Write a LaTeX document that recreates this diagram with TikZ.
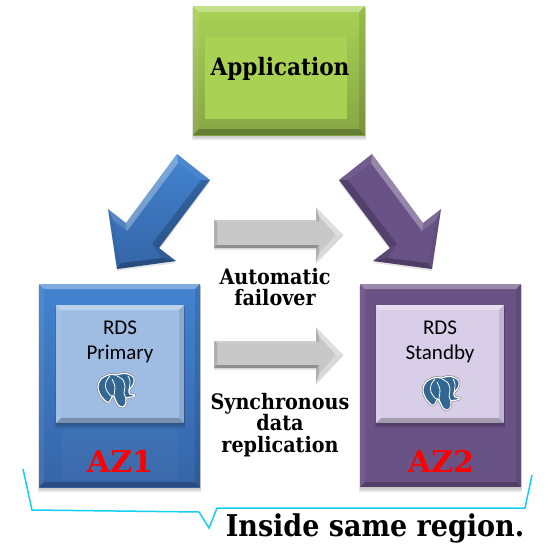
\documentclass[tikz,border=0pt]{standalone}
\usepackage{fontspec}
\setmainfont{DejaVu Serif}
\newfontfamily\bodyfont{Carlito}
\newfontfamily\condfont{DejaVu Serif Condensed}
\usetikzlibrary{calc}
\definecolor{bluetop}{HTML}{4283CF}
\definecolor{bluebot}{HTML}{3565A8}
\definecolor{purp}{HTML}{695286}
\definecolor{lblue}{HTML}{9FBDE3}
\definecolor{lpurp}{HTML}{D8CEE8}
\definecolor{agreen}{HTML}{A9D255}
\definecolor{agreenb}{HTML}{86A544}
\definecolor{agrey}{HTML}{C8C8C8}
\definecolor{pgblue}{HTML}{336791}
\definecolor{brk}{HTML}{10D0F5}
\tikzset{
 x=1pt,y=-1pt,
 boldlabel/.style={font=\condfont\fontsize{21.3}{21.3}\selectfont\bfseries,align=center,inner sep=0pt,text=black},
 azlabel/.style={font=\fontsize{30}{30}\selectfont\bfseries,inner sep=0pt,text=red},
 rdslabel/.style={font=\bodyfont\fontsize{21}{25.5}\selectfont,align=center,inner sep=0pt,text=black},
 bracketline/.style={draw=brk,line width=1.5pt,line join=miter},
 softshadow/.style={fill=black,opacity=.1,draw=none},
 lit/.style={fill=white,opacity=#1},
 dark/.style={fill=black,opacity=#1},
}
% #1 name, #2-#5 x1 y1 x2 y2, #6 fill options, #7 bevel width
\newcommand{\bevelbox}[7]{%
 \fill[softshadow] (#2-1,#3+2) rectangle (#4+1,#5+5);
 \fill[softshadow] (#2,#3+1) rectangle (#4+1,#5+3);
 \node[minimum width=#4pt-#2pt,minimum height=#5pt-#3pt,inner sep=0pt,outer sep=0pt] (#1) at ({(#2+#4)/2},{(#3+#5)/2}) {};
 \path[#6] (#2,#3) rectangle (#4,#5);
 \fill[lit=.32] (#2,#3) -- (#4,#3) -- (#4-#7,#3+#7) -- (#2+#7,#3+#7) -- cycle;
 \fill[lit=.07] (#2,#3) -- (#2+#7,#3+#7) -- (#2+#7,#5-#7) -- (#2,#5) -- cycle;
 \fill[dark=.1] (#4,#3) -- (#4-#7,#3+#7) -- (#4-#7,#5-#7) -- (#4,#5) -- cycle;
 \fill[dark=.24] (#2,#5) -- (#2+#7,#5-#7) -- (#4-#7,#5-#7) -- (#4,#5) -- cycle;
}
% elephant: #1,#2 = origin of the 56x52 cell
\newcommand{\elephant}[2]{%
 \begin{scope}[shift={(#1,#2)}]
 \def\outline{(20,9.5) (11,14) (8,22) (11,31) (17,37) (20,36) (22.5,31) (25,34) (28,40) (33,42) (36,38) (36,33) (42,32) (45,30) (40,29) (39,25) (43,20) (44,13) (38,9) (32,8.5) (26,10)}
 \draw[black!55,line width=2.2pt,line join=round] plot[smooth cycle,tension=.6] coordinates {\outline};
 \path[fill=pgblue,draw=white,line width=1.2pt,line join=round] plot[smooth cycle,tension=.6] coordinates {\outline};
 \draw[white,line width=.8pt,line cap=round] plot[smooth,tension=.7] coordinates {(20,11) (16,17) (16,24) (20,30) (22.5,31)};
 \draw[white,line width=.8pt,line cap=round] plot[smooth,tension=.7] coordinates {(27,11) (33,15) (35,22) (34,28) (36,33)};
 \draw[white,line width=.8pt,line cap=round] plot[smooth,tension=.7] coordinates {(22,14) (25,22) (24,30) (25,34)};
 \draw[white,line width=.8pt,line cap=round] plot[smooth,tension=.7] coordinates {(38,11) (40,16) (39,25)};
 \end{scope}}
% block arrow, drawn for the blue one; #1 = fill options
\newcommand{\blockarrow}[1]{%
 \fill[softshadow] (177,156)--(210,182)--(159,250)--(176,263)--(117,271)--(108,211)--(126,225)--cycle;
 \path[#1] (177,154)--(210,180)--(159,248)--(176,261)--(117,269)--(108,209)--(126,223)--cycle;
 \fill[lit=.3] (177,154)--(178,163)--(127,231)--(126,223)--cycle;
 \fill[lit=.06] (177,154)--(210,180)--(201,180)--(178,163)--cycle;
 \fill[dark=.2] (210,180)--(201,180)--(152,244)--(159,248)--cycle;
 \fill[lit=.14] (108,209)--(126,223)--(127,231)--(113,220)--cycle;
 \fill[dark=.04] (108,209)--(113,220)--(121,263)--(117,269)--cycle;
 \fill[dark=.26] (117,269)--(121,263)--(162,258)--(176,261)--cycle;
 \fill[dark=.12] (159,248)--(176,261)--(162,258)--(152,244)--cycle;
}
% grey arrow; #1 name of tail coordinate, #2.. y values
\newcommand{\greyarrow}[6]{%
 \coordinate (#1) at (214,#6);
 \fill[softshadow] (214,#2+2)--(316,#2+2)--(316,#4+2)--(343,#6+1)--(316,#5+2)--(316,#3+2)--(214,#3+2)--cycle;
 \fill[agrey] (214,#2)--(316,#2)--(316,#4)--(343,#6)--(316,#5)--(316,#3)--(214,#3)--cycle;
 \fill[lit=.1] (214,#2)--(316,#2)--(316,#2+2)--(217,#2+2)--cycle;
 \fill[dark=.12] (214,#2)--(217,#2+2)--(217,#3-3)--(214,#3)--cycle;
 \fill[dark=.28] (214,#3)--(217,#3-3)--(319,#3-3)--(316,#3)--cycle;
 \fill[lit=.4] (316,#4)--(343,#6)--(336,#6)--(319,#4+9)--cycle;
 \fill[lit=.3] (316,#5)--(343,#6)--(336,#6)--(319,#5-9)--cycle;
 \fill[dark=.12] (316,#4)--(319,#4+9)--(319,#2+2)--(316,#2)--cycle;
 \fill[dark=.12] (316,#5)--(319,#5-9)--(319,#3-3)--(316,#3)--cycle;
}
\begin{document}
\begin{tikzpicture}
\useasboundingbox (0,0) rectangle (550,550);
% Application
\bevelbox{app}{193}{6}{365}{135}{top color=agreen,bottom color=agreenb}{6}
\fill[agreen] (205,37) rectangle (347,119);
\node[boldlabel,font=\condfont\fontsize{24}{24}\selectfont\bfseries] (apptext) at (280,69) {Application};
% AZ1
\bevelbox{az1}{39}{284}{200}{487}{top color=bluetop,bottom color=bluebot}{5}
\fill[lit=.03] (61,430) rectangle (178,480);
\node[azlabel] (az1text) at (120,461) {AZ1};
\bevelbox{rds1}{56}{305}{184}{423}{fill=lblue}{5}
\node[rdslabel] (rds1text) at (120,342) {RDS\\Primary};
\elephant{90}{365}
% AZ2
\bevelbox{az2}{360}{284}{521}{487}{fill=purp}{5}
\node[azlabel] (az2text) at (441,461) {AZ2};
\bevelbox{rds2}{376}{305}{504}{423}{fill=lpurp}{5}
\node[rdslabel] (rds2text) at (440,342) {RDS\\Standby};
\elephant{415}{368}
% Block arrows
\blockarrow{top color=bluetop,bottom color=bluebot}
\begin{scope}[xshift=549pt,xscale=-1]
\blockarrow{fill=purp}
\end{scope}
% Grey arrows
\greyarrow{g1}{220}{248}{207}{262}{235}
\greyarrow{g2}{341}{368}{327}{383}{355}
\node[boldlabel] (auto) at (275,287) {Automatic\\failover};
\node[boldlabel] (sync) at (280,425) {Synchronous\\data\\replication};
\node[boldlabel,font=\condfont\fontsize{30}{30}\selectfont\bfseries] (region) at (375,528) {Inside same region.};
% bracket
\coordinate (b1) at (23,469); \coordinate (b2) at (32,510); \coordinate (b3) at (199,512);
\coordinate (b4) at (209,528); \coordinate (b5) at (217,508); \coordinate (b6) at (525,508); \coordinate (b7) at (532,475);
\draw[bracketline] (b1)--(b2)--(b3)--(b4)--(b5)--(b6)--(b7);
\end{tikzpicture}
\end{document}
